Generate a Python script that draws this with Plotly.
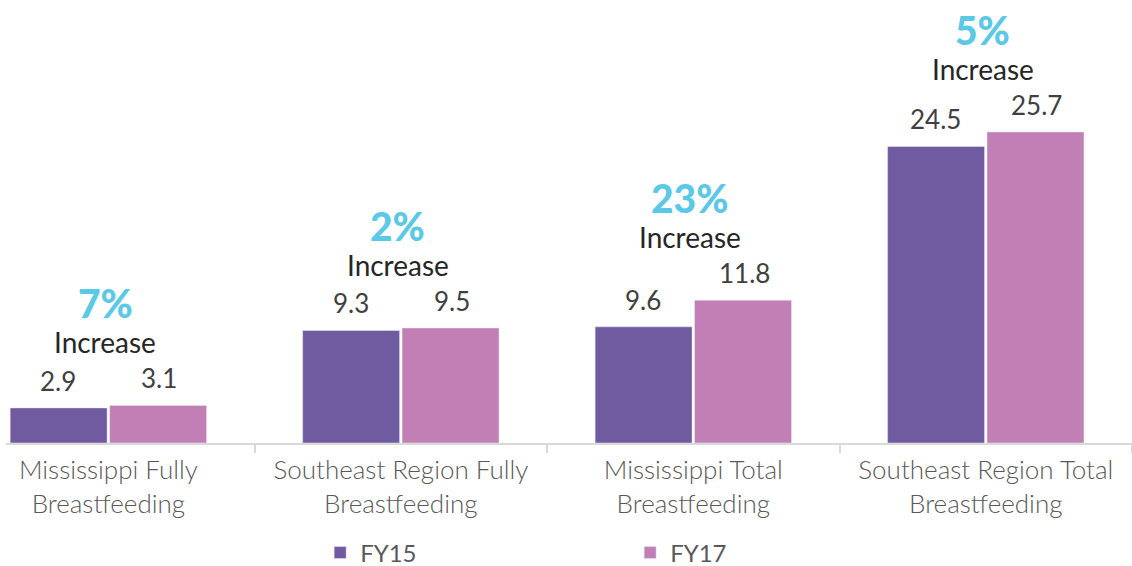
import plotly.graph_objects as go

categories = ["Mississippi Fully<br>Breastfeeding", "Southeast Region Fully<br>Breastfeeding",
              "Mississippi Total<br>Breastfeeding", "Southeast Region Total<br>Breastfeeding"]
fy15 = [2.9, 9.3, 9.6, 24.5]
fy17 = [3.1, 9.5, 11.8, 25.7]
pct_labels = ["7%", "2%", "23%", "5%"]
series_names = ["FY15", "FY17"]

C15 = "#705BA0"
C17 = "#C17FB5"
CYAN = "#5BC8E6"

fig = go.Figure()
fig.add_trace(go.Bar(name=series_names[0], x=categories, y=fy15, marker_color=C15,
                     hoverinfo="x+y"))
fig.add_trace(go.Bar(name=series_names[1], x=categories, y=fy17, marker_color=C17,
                     hoverinfo="x+y"))

ann = []
for c, a, b, p in zip(categories, fy15, fy17, pct_labels):
    for v, dx in ((a, -50), (b, 51)):
        ann.append(dict(x=c, y=v, text=f"{v:.1f}", showarrow=False, xshift=dx, yshift=27,
                        yanchor="middle", font=dict(family="Lato", size=26, color="#404040")))
    top = max(a, b)
    ann.append(dict(x=c, y=top, text="Increase", showarrow=False, xshift=-3, yshift=63,
                    yanchor="middle", font=dict(family="Lato", size=28, color="#262626", weight=400)))
    ann.append(dict(x=c, y=top, text=p, showarrow=False, xshift=-3, yshift=102,
                    yanchor="middle", font=dict(family="Lato", size=39, color=CYAN, weight=900)))

fig.update_layout(
    width=1132, height=566, autosize=False,
    margin=dict(l=6, r=0, t=0, b=123, autoexpand=False),
    plot_bgcolor="white", paper_bgcolor="white",
    barmode="group", bargap=0.32, bargroupgap=0.025,
    annotations=ann,
    showlegend=True,
    legend=dict(orientation="h", x=0.279, xanchor="left", yref="container",
                y=1 - 553 / 566, yanchor="middle",
                entrywidth=265, entrywidthmode="pixels",
                font=dict(family="Lato", size=24, color="#595959"),
                itemwidth=30, traceorder="normal"),
    xaxis=dict(range=[-0.35, 3.5], showgrid=False, showline=True, linecolor="#D9D9D9", linewidth=2,
               ticks="outside", tickson="boundaries", ticklen=8, tickcolor="#D9D9D9", tickwidth=2,
               tickfont=dict(family="Lato", size=26, color="#595959", weight=300),
               ticklabelstandoff=3, automargin=False, zeroline=False),
    yaxis=dict(range=[0, 36.6], visible=False, showgrid=False, zeroline=False, automargin=False),
)

fig.write_html("out.html", config={"displayModeBar": False},
               post_script="document.body.style.margin='0';document.body.style.overflow='hidden';")
